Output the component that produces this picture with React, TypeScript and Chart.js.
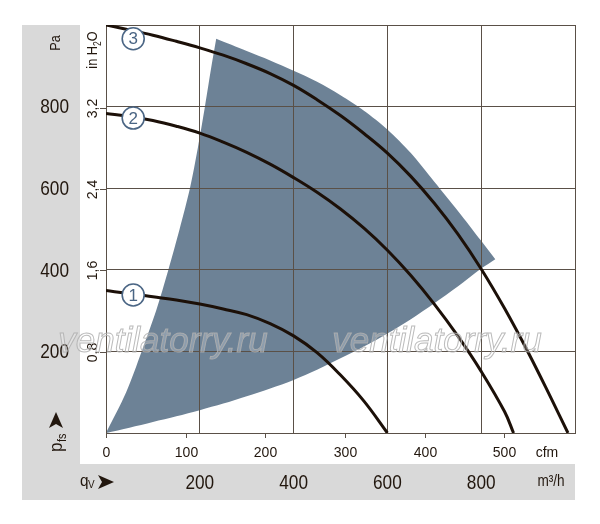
import { useEffect, useRef } from "react"
import { Chart, registerables } from "chart.js"

Chart.register(...registerables)

// airflow in m³/h, static pressure in Pa
const curve1Flow = [0, 50, 100, 150, 200, 250, 300, 350, 400, 450, 500, 550, 600]
const curve1Pa = [349, 342, 334, 326, 316, 304, 290, 268, 238, 197, 142, 78, 0]
const curve2Flow = [0, 50, 100, 150, 200, 250, 300, 350, 400, 450, 500, 550, 600, 650, 700, 750, 800, 850, 869]
const curve2Pa = [783, 776, 766, 752, 735, 713, 688, 659, 626, 590, 549, 502, 448, 386, 316, 238, 151, 52, 0]
const curve3Flow = [0, 50, 100, 150, 200, 250, 300, 350, 400, 450, 500, 550, 600, 650, 700, 750, 800, 850, 900, 950, 985]
const curve3Pa = [1000, 988, 975, 960, 944, 926, 905, 881, 852, 817, 778, 734, 686, 629, 563, 488, 402, 305, 198, 83, 0]

// operating range outline (clockwise from origin, corners repeated so they stay sharp)
const rangeFlow = [
  0, 0, 43, 76, 107, 133, 157, 179, 196, 211, 225, 235, 235,
  300, 350, 400, 450, 500, 550, 600, 650, 700, 750, 800, 830, 830,
  800, 750, 700, 650, 600, 550, 500, 450, 400, 350, 300, 250, 200, 150, 100, 50, 0, 0,
]
const rangePa = [
  0, 0, 100, 200, 300, 400, 500, 600, 700, 800, 900, 966, 966,
  936, 913, 888, 861, 828, 790, 744, 686, 616, 545, 471, 426, 426,
  403, 359, 318, 279, 244, 212, 183, 155, 130, 109, 90, 72, 56, 41, 27, 13, 0, 0,
]

const curveNames = ["1", "2", "3"]
const paTicks = [200, 400, 600, 800]
const flowTicks = [200, 400, 600, 800]
const cfmTicks = [0, 100, 200, 300, 400, 500]
const inchTicks = [0.8, 1.6, 2.4, 3.2]

const CFM_TO_M3H = 1.699
const INH2O_TO_PA = 249.09

const GRID = "#5a5047"
const INK = "#22170e"
const RANGE = "#6d8296"
const BADGE = "#4a6584"
const SANS = "'Liberation Sans', Arial, sans-serif"

const toPoints = (xs: number[], ys: number[]) => xs.map((x, i) => ({ x, y: ys[i] }))

function interp(xs: number[], ys: number[], x: number) {
  for (let i = 1; i < xs.length; i++) {
    if (x <= xs[i]) {
      const t = (x - xs[i - 1]) / (xs[i] - xs[i - 1])
      return ys[i - 1] + t * (ys[i] - ys[i - 1])
    }
  }
  return ys[ys.length - 1]
}

// condensed text: the narrow face is not installed, so squeeze the regular one
function narrow(ctx: CanvasRenderingContext2D, text: string, x: number, y: number, squeeze = 0.82) {
  ctx.save()
  ctx.translate(x, y)
  ctx.scale(squeeze, 1)
  ctx.fillText(text, 0, 0)
  ctx.restore()
}

function arrow(ctx: CanvasRenderingContext2D, x: number, y: number, angle: number) {
  // notched arrowhead, tip at (x, y)
  ctx.save()
  ctx.translate(x, y)
  ctx.rotate(angle)
  ctx.beginPath()
  ctx.moveTo(0, 0)
  ctx.lineTo(-16, -7)
  ctx.lineTo(-12, 0)
  ctx.lineTo(-16, 7)
  ctx.closePath()
  ctx.fillStyle = INK
  ctx.fill()
  ctx.restore()
}

const decor = {
  id: "decor",
  beforeDraw(chart: any) {
    const { ctx, chartArea: a } = chart
    ctx.save()
    ctx.fillStyle = "#d9d9d9"
    ctx.fillRect(a.left - 84, a.top, 58, a.bottom + 67 - a.top)
    ctx.fillRect(a.left - 26, a.bottom + 31, a.right - a.left + 26, 36)
    ctx.restore()
  },
  afterDatasetsDraw(chart: any) {
    const { ctx, scales } = chart
    const sets = [
      [curve1Flow, curve1Pa],
      [curve2Flow, curve2Pa],
      [curve3Flow, curve3Pa],
    ]
    ctx.save()
    sets.forEach(([fx, fy], i) => {
      const q = 58
      const cx = scales.x.getPixelForValue(q)
      const cy = scales.y.getPixelForValue(interp(fx, fy, q)) + (i === 2 ? 8 : 1)
      ctx.beginPath()
      ctx.arc(cx, cy, 11, 0, Math.PI * 2)
      ctx.fillStyle = "#fff"
      ctx.fill()
      ctx.lineWidth = 1.6
      ctx.strokeStyle = BADGE
      ctx.stroke()
      ctx.fillStyle = BADGE
      ctx.font = `17px ${SANS}`
      ctx.textAlign = "center"
      ctx.textBaseline = "middle"
      ctx.fillText(curveNames[i], cx, cy + 1)
    })
    ctx.restore()
  },
  afterDraw(chart: any) {
    const { ctx, chartArea: a, scales } = chart
    const { x, y } = scales
    ctx.save()
    ctx.fillStyle = INK
    ctx.strokeStyle = GRID
    ctx.lineWidth = 1

    // cfm ticks + labels
    ctx.font = `14px ${SANS}`
    ctx.textAlign = "center"
    ctx.textBaseline = "middle"
    cfmTicks.forEach((v) => {
      const px = Math.round(x.getPixelForValue(v * CFM_TO_M3H)) + 0.5
      ctx.beginPath()
      ctx.moveTo(px, a.bottom)
      ctx.lineTo(px, a.bottom + 5)
      ctx.stroke()
      ctx.fillText(String(v), px, a.bottom + 20)
    })
    ctx.fillText("cfm", a.right - 28, a.bottom + 20)

    // m³/h labels
    ctx.font = `21px ${SANS}`
    flowTicks.forEach((v) => {
      narrow(ctx, String(v), x.getPixelForValue(v), a.bottom + 50)
    })
    ctx.font = `16px ${SANS}`
    narrow(ctx, "m³/h", a.right - 24, a.bottom + 49, 0.85)

    // q_V arrow
    ctx.textAlign = "left"
    ctx.textBaseline = "alphabetic"
    ctx.font = `17px ${SANS}`
    narrow(ctx, "q", a.left - 26, a.bottom + 53, 0.9)
    ctx.font = `11px ${SANS}`
    narrow(ctx, "V", a.left - 18, a.bottom + 55, 0.9)
    arrow(ctx, a.left + 8, a.bottom + 49, 0)

    // Pa labels
    ctx.font = `21px ${SANS}`
    ctx.textAlign = "right"
    ctx.textBaseline = "middle"
    paTicks.forEach((v) => {
      narrow(ctx, String(v), a.left - 37, y.getPixelForValue(v) + 1)
    })

    // in H2O ticks + rotated labels
    ctx.font = `14px ${SANS}`
    ctx.textAlign = "center"
    inchTicks.forEach((v) => {
      const py = Math.round(y.getPixelForValue(v * INH2O_TO_PA)) + 0.5
      ctx.beginPath()
      ctx.moveTo(a.left - 6, py)
      ctx.lineTo(a.left, py)
      ctx.stroke()
      ctx.save()
      ctx.translate(a.left - 13, py)
      ctx.rotate(-Math.PI / 2)
      ctx.fillText(v.toFixed(1).replace(".", ","), 0, 0)
      ctx.restore()
    })

    // rotated axis names
    ctx.save()
    ctx.translate(a.left - 50, a.top + 18)
    ctx.rotate(-Math.PI / 2)
    ctx.font = `15px ${SANS}`
    ctx.textAlign = "center"
    narrow(ctx, "Pa", 0, 0, 0.85)
    ctx.restore()

    ctx.save()
    ctx.translate(a.left - 13, a.top + 25)
    ctx.rotate(-Math.PI / 2)
    ctx.scale(0.85, 1)
    ctx.textAlign = "left"
    ctx.textBaseline = "middle"
    ctx.font = `15px ${SANS}`
    const w1 = ctx.measureText("in H").width
    ctx.font = `10px ${SANS}`
    const w2 = ctx.measureText("2").width
    ctx.font = `15px ${SANS}`
    const w3 = ctx.measureText("O").width
    let sx = -(w1 + w2 + w3) / 2
    ctx.fillText("in H", sx, 0)
    sx += w1
    ctx.font = `10px ${SANS}`
    ctx.fillText("2", sx, 5)
    sx += w2
    ctx.font = `15px ${SANS}`
    ctx.fillText("O", sx, 0)
    ctx.restore()

    ctx.save()
    ctx.translate(a.left - 44, a.bottom + 19)
    ctx.rotate(-Math.PI / 2)
    ctx.scale(0.9, 1)
    ctx.textAlign = "left"
    ctx.textBaseline = "alphabetic"
    ctx.font = `19px ${SANS}`
    ctx.fillText("p", 0, 0)
    ctx.font = `12px ${SANS}`
    ctx.fillText("fs", 11, 4)
    ctx.restore()
    arrow(ctx, a.left - 50, a.top + 387, -Math.PI / 2)

    // watermark
    ctx.font = `italic 35px ${SANS}`
    ctx.textAlign = "center"
    ctx.textBaseline = "alphabetic"
    ctx.lineWidth = 1
    ;[163, 437].forEach((cx) => {
      ctx.fillStyle = "rgba(255,255,255,0.22)"
      ctx.fillText("ventilatorry.ru", cx, 352)
      ctx.strokeStyle = "rgba(175,175,175,0.85)"
      ctx.strokeText("ventilatorry.ru", cx, 352)
    })
    ctx.restore()
  },
}

export default function App() {
  const canvasRef = useRef<HTMLCanvasElement>(null)
  const chartInstance = useRef<Chart | null>(null)

  useEffect(() => {
    if (!canvasRef.current) return
    if (chartInstance.current) chartInstance.current.destroy()
    const ctx = canvasRef.current.getContext("2d")
    if (!ctx) return

    const curve = (xs: number[], ys: number[]) => ({
      data: toPoints(xs, ys),
      borderColor: "#1c1008",
      borderWidth: 3,
      pointRadius: 0,
      tension: 0.4,
      fill: false,
    })

    chartInstance.current = new Chart(ctx, {
      type: "line",
      data: {
        datasets: [
          {
            data: toPoints(rangeFlow, rangePa),
            borderWidth: 0,
            borderColor: "rgba(0,0,0,0)",
            backgroundColor: RANGE,
            pointRadius: 0,
            tension: 0.3,
            fill: "shape",
          },
          curve(curve1Flow, curve1Pa),
          curve(curve2Flow, curve2Pa),
          curve(curve3Flow, curve3Pa),
        ],
      },
      options: {
        animation: false,
        responsive: true,
        maintainAspectRatio: false,
        events: [],
        layout: { padding: { left: 106, right: 25, top: 25, bottom: 91 } },
        scales: {
          x: {
            type: "linear",
            min: 0,
            max: 1000,
            ticks: { display: false, stepSize: 200 },
            grid: { color: GRID, lineWidth: 1, drawTicks: false },
            border: { color: GRID, width: 1 },
            afterFit: (s: any) => {
              s.height = 0
            },
          },
          y: {
            type: "linear",
            min: 0,
            max: 1000,
            ticks: { display: false, stepSize: 200 },
            grid: { color: GRID, lineWidth: 1, drawTicks: false },
            border: { color: GRID, width: 1 },
            afterFit: (s: any) => {
              s.width = 0
            },
          },
        },
        plugins: {
          legend: { display: false },
          tooltip: { enabled: false },
          filler: { drawTime: "beforeDraw" },
        },
      },
      plugins: [decor],
    } as any)

    return () => {
      if (chartInstance.current) {
        chartInstance.current.destroy()
        chartInstance.current = null
      }
    }
  }, [])

  return (
    <div style={{ position: "absolute", left: 0, top: 0, width: 600, height: 524, background: "#fff" }}>
      <canvas ref={canvasRef} />
    </div>
  )
}
